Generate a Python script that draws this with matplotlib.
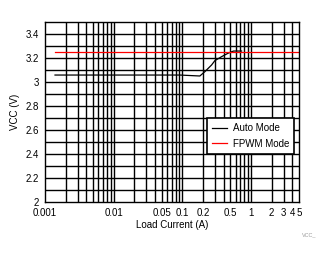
import matplotlib
matplotlib.use("Agg")
import matplotlib.pyplot as plt
import numpy as np
from matplotlib.ticker import FixedLocator, NullFormatter

plt.rcParams['font.family'] = ['Liberation Sans', 'DejaVu Sans']

# Auto mode curve
auto_x = [0.0014, 0.044, 0.092, 0.18, 0.213, 0.267, 0.298, 0.373, 0.461, 0.522, 0.56, 0.73]
auto_y = [3.058, 3.058, 3.058, 3.05, 3.086, 3.142, 3.178, 3.211, 3.239, 3.252, 3.258, 3.258]

# FPWM mode curve
fpwm_x = [0.0014, 5.0]
fpwm_y = [3.25, 3.25]

xticks = [0.001, 0.01, 0.05, 0.1, 0.2, 0.5, 1, 2, 3, 4, 5]
xtick_labels = ["0.001", "0.01", "0.05", "0.1", "0.2", "0.5", "1", "2", "3", "4", "5"]
yticks = [2, 2.2, 2.4, 2.6, 2.8, 3, 3.2, 3.4]
ytick_labels = ["2", "2.2", "2.4", "2.6", "2.8", "3", "3.2", "3.4"]

fig = plt.figure(figsize=(3.32, 2.54), dpi=100)
ax = fig.add_axes([0.1355, 0.2047, 0.765, 0.7087])

ax.plot(auto_x, auto_y, color="black", linewidth=0.9, label="Auto Mode")
ax.plot(fpwm_x, fpwm_y, color="#ff0000", linewidth=0.9, label="FPWM Mode")

ax.set_xscale("log")
ax.set_xlim(0.001, 5)
ax.set_ylim(2, 3.5)

# grid lines at every decade subdivision
grid_x = []
for d in [0.001, 0.01, 0.1, 1]:
    for m in range(1, 10):
        v = d * m
        if 0.001 < v < 5:
            grid_x.append(v)
for v in grid_x:
    ax.axvline(v, color="black", linewidth=1.0, zorder=0)
for v in np.arange(2.1, 3.5, 0.1):
    ax.axhline(v, color="black", linewidth=1.0, zorder=0)

ax.xaxis.set_major_locator(FixedLocator(xticks))
ax.set_xticklabels(xtick_labels)
ax.xaxis.set_minor_formatter(NullFormatter())
ax.xaxis.set_minor_locator(FixedLocator([]))
ax.set_yticks(yticks)
ax.set_yticklabels(ytick_labels)
ax.tick_params(axis="both", length=0, labelsize=7, pad=4)

for s in ax.spines.values():
    s.set_color("black")
    s.set_linewidth(1.0)

ax.set_xlabel("Load Current (A)", fontsize=7, labelpad=2)
ax.set_ylabel("VCC (V)", fontsize=7, labelpad=4)

leg = ax.legend(loc="upper left", bbox_to_anchor=(0.637, 0.467), fontsize=7,
                frameon=True, fancybox=False, edgecolor="black", framealpha=1,
                handlelength=1.5, handletextpad=0.6, borderpad=0.55,
                labelspacing=0.55, borderaxespad=0)
leg.get_frame().set_linewidth(1.2)

fig.text(0.91, 0.07, "VCC_", fontsize=4, color="#999999")

fig.savefig("out.png", dpi=100)
